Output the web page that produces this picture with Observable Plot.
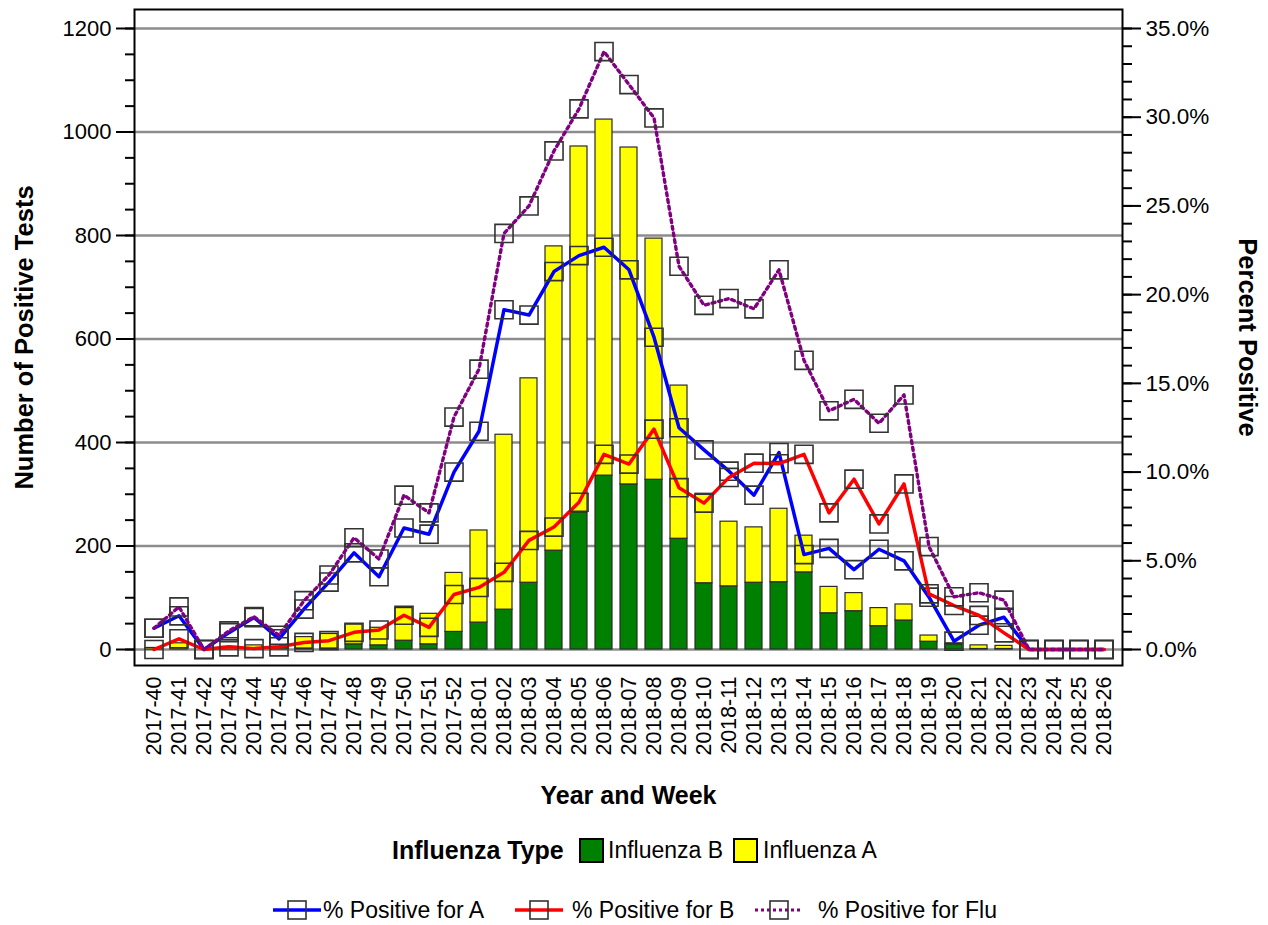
<!DOCTYPE html>
<html>
<head>
<meta charset="utf-8">
<script src="https://cdn.jsdelivr.net/npm/d3@7"></script>
<script src="https://cdn.jsdelivr.net/npm/@observablehq/plot@0.6"></script>
<style>
  body { margin: 0; background: #fff; }
  #wrap { position: relative; width: 1268px; height: 925px; font-family: "Liberation Sans", Arial, sans-serif; color: #000; }
  #wrap svg.plot { position: absolute; left: 0; top: 0; }
  .lg { position: absolute; white-space: nowrap; line-height: 26px; height: 26px; }
  .sw { position: absolute; box-sizing: border-box; border: 2px solid #000; width: 25px; height: 25px; }
</style>
</head>
<body>
<div id="wrap"></div>
<script>
const weeks = ["2017-40","2017-41","2017-42","2017-43","2017-44","2017-45","2017-46","2017-47","2017-48","2017-49","2017-50","2017-51","2017-52",
  "2018-01","2018-02","2018-03","2018-04","2018-05","2018-06","2018-07","2018-08","2018-09","2018-10","2018-11","2018-12","2018-13",
  "2018-14","2018-15","2018-16","2018-17","2018-18","2018-19","2018-20","2018-21","2018-22","2018-23","2018-24","2018-25","2018-26"];
const fluB = [0,0,0,0,0,0,2,2,10,8,17,10,34, 52,77,129,191,265,336,319,328,214,128,122,129,130, 149,70,74,45,56,15,10,1,1,0,0,0,0];
const fluA = [3,12,0,5,8,4,22,28,38,34,63,59,114, 178,338,395,588,707,688,651,466,296,173,125,107,142, 71,51,35,35,31,12,2,7,6,0,0,0,0];
const pctA = [1.2,1.9,0,0.95,1.8,0.6,2.28,3.8,5.45,4.1,6.85,6.5,10.0, 12.3,19.15,18.85,21.3,22.2,22.67,21.4,17.6,12.5,11.25,10.05,8.7,11.1, 5.35,5.7,4.5,5.65,5.0,2.95,0.47,1.37,1.82,0,0,0,0];
const pctB = [0,0.6,0,0.15,0.05,0.15,0.4,0.5,0.97,1.1,1.93,1.25,3.1, 3.5,4.35,6.15,6.9,8.3,11.0,10.45,12.42,9.12,8.25,9.7,10.5,10.47, 11.0,7.7,9.6,7.08,9.33,3.14,2.48,1.92,0.94,0,0,0,0];
const pctFlu = [1.2,2.4,0,1.05,1.85,0.8,2.75,4.2,6.3,5.1,8.7,7.7,13.1, 15.8,23.45,25.0,28.1,30.47,33.7,31.84,29.96,21.6,19.4,19.78,19.2,21.4, 16.3,13.45,14.1,12.75,14.35,5.8,2.97,3.2,2.78,0,0,0,0];
const countTicks = [0,200,400,600,800,1000,1200];
const countMinor = d3.range(0, 1201, 50);
const pctTicks = [0,5,10,15,20,25,30,35];
const pctMinor = d3.range(0, 36, 1);
const types = ["Influenza B","Influenza A"];
const typeColors = ["#008000","#ffff00"];

const k = 1200 / 35; // percent -> count units (right axis)
const table = weeks.flatMap((w, i) => [
  {week: w, type: "Influenza B", value: fluB[i]},
  {week: w, type: "Influenza A", value: fluA[i]}
]);
const pctRows = weeks.map((w, i) => ({week: w, a: pctA[i] * k, b: pctB[i] * k, flu: pctFlu[i] * k}));

const markerOpts = {symbol: "square", r: 10.2, fill: "none", stroke: "#333", strokeWidth: 1.6};

const chart = Plot.plot({
  width: 1268, height: 810,
  marginLeft: 134, marginRight: 146, marginTop: 9, marginBottom: 145,
  style: {fontFamily: "'Liberation Sans', Arial, sans-serif", fontSize: "22px", color: "#000", background: "transparent"},
  x: {type: "band", domain: weeks, padding: 0.32, label: null},
  y: {domain: [-30.9, 1236.7], label: null},
  color: {domain: types, range: typeColors},
  marks: [
    Plot.ruleY(countTicks, {stroke: "#8c8c8c", strokeWidth: 2.5}),
    Plot.barY(table, {x: "week", y: "value", fill: "type", stroke: "#2b2b2b", strokeWidth: 1.2, order: types}),
    Plot.line(pctRows, {x: "week", y: "a", stroke: "#0000ff", strokeWidth: 3.5}),
    Plot.dot(pctRows, {x: "week", y: "a", ...markerOpts}),
    Plot.line(pctRows, {x: "week", y: "b", stroke: "#ff0000", strokeWidth: 3.5}),
    Plot.dot(pctRows, {x: "week", y: "b", ...markerOpts}),
    Plot.line(pctRows, {x: "week", y: "flu", stroke: "#800080", strokeWidth: 3.4, strokeDasharray: "3,3.8"}),
    Plot.dot(pctRows, {x: "week", y: "flu", ...markerOpts}),
    Plot.frame({stroke: "#000", strokeWidth: 2}),
    Plot.axisY(countTicks, {anchor: "left", tickSize: 18, tickPadding: 5, strokeWidth: 2, tickFormat: d => String(d), label: null}),
    Plot.axisY(countMinor, {anchor: "left", tickSize: 9, strokeWidth: 2, tickFormat: () => "", label: null}),
    Plot.axisY(pctTicks.map(p => p * k), {anchor: "right", tickSize: 18, tickPadding: 5, strokeWidth: 2, fontSize: 22.5, tickFormat: d => (d / k).toFixed(1) + "%", label: null}),
    Plot.axisY(pctMinor.map(p => p * k), {anchor: "right", tickSize: 9, strokeWidth: 2, tickFormat: () => "", label: null}),
    Plot.axisX({anchor: "bottom", tickSize: 0, tickPadding: 11, tickRotate: -90, fontSize: 21.5, label: null}),
    Plot.text(["Number of Positive Tests"], {text: d => d, frameAnchor: "left", dx: -110, rotate: -90, textAnchor: "middle", lineAnchor: "middle", fontSize: 25.5, fontWeight: "bold"}),
    Plot.text(["Percent Positive"], {text: d => d, frameAnchor: "right", dx: 125, rotate: 90, textAnchor: "middle", lineAnchor: "middle", fontSize: 25.5, fontWeight: "bold"}),
    Plot.text(["Year and Week"], {text: d => d, frameAnchor: "bottom", dy: 130, textAnchor: "middle", lineAnchor: "middle", fontSize: 25, fontWeight: "bold"})
  ]
});
chart.classList.add("plot");
const wrap = document.getElementById("wrap");
wrap.appendChild(chart);

// Legends
function addText(txt, left, top, size, bold) {
  const d = document.createElement("div");
  d.className = "lg";
  d.textContent = txt;
  d.style.left = left + "px";
  d.style.top = top + "px";
  d.style.fontSize = size + "px";
  if (bold) d.style.fontWeight = "bold";
  wrap.appendChild(d);
}
function addSwatch(color, left, top) {
  const s = document.createElement("div");
  s.className = "sw";
  s.style.background = color;
  s.style.left = left + "px";
  s.style.top = top + "px";
  wrap.appendChild(s);
}
addText("Influenza Type", 392, 837, 25, true);
addSwatch(typeColors[0], 579, 838);
addText(types[0], 608, 837, 23);
addSwatch(typeColors[1], 733, 838);
addText(types[1], 763, 837, 23);

const lineItems = [
  {label: "% Positive for A", color: "#0000ff", dash: null, w: 3.5, left: 273, textLeft: 323},
  {label: "% Positive for B", color: "#ff0000", dash: null, w: 3.5, left: 515, textLeft: 572},
  {label: "% Positive for Flu", color: "#800080", dash: "3,3", w: 3, left: 755, textLeft: 818}
];
const NS = "http://www.w3.org/2000/svg";
lineItems.forEach(it => {
  const svg = document.createElementNS(NS, "svg");
  svg.setAttribute("width", 48); svg.setAttribute("height", 26);
  svg.style.position = "absolute"; svg.style.left = it.left + "px"; svg.style.top = "897px";
  const ln = document.createElementNS(NS, "line");
  ln.setAttribute("x1", 0); ln.setAttribute("x2", 48); ln.setAttribute("y1", 13); ln.setAttribute("y2", 13);
  ln.setAttribute("stroke", it.color); ln.setAttribute("stroke-width", it.w);
  if (it.dash) ln.setAttribute("stroke-dasharray", it.dash);
  svg.appendChild(ln);
  const r = document.createElementNS(NS, "rect");
  r.setAttribute("x", 15); r.setAttribute("y", 4); r.setAttribute("width", 18); r.setAttribute("height", 18);
  r.setAttribute("fill", "none"); r.setAttribute("stroke", "#333"); r.setAttribute("stroke-width", 1.6);
  svg.appendChild(r);
  wrap.appendChild(svg);
  addText(it.label, it.textLeft, 897, 23);
});
</script>
</body>
</html>
